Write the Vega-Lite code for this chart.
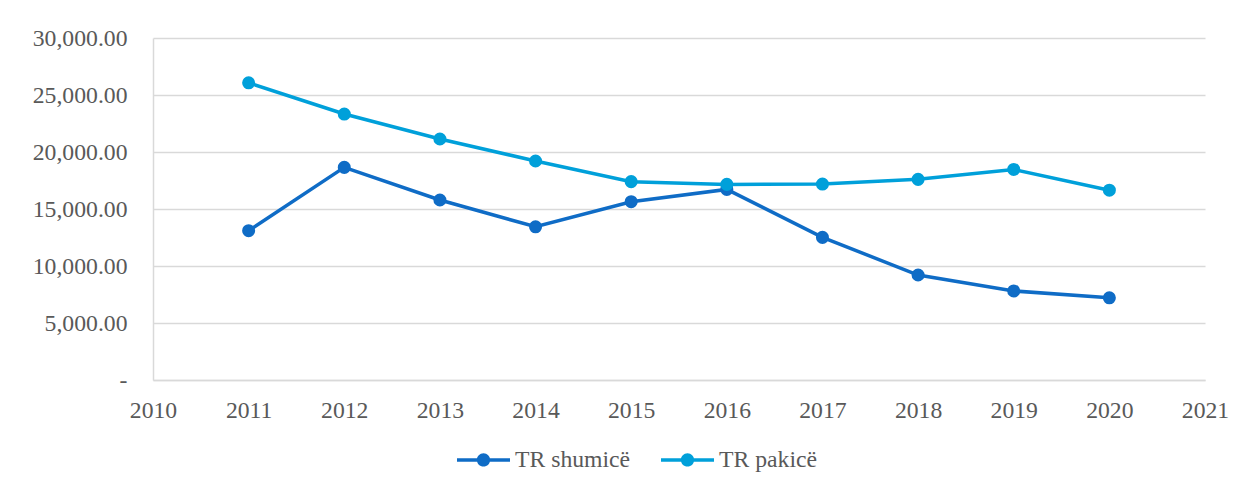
{
  "$schema": "https://vega.github.io/schema/vega-lite/v6.json",
  "width": 1052,
  "height": 342,
  "autosize": "none",
  "padding": {"left": 153, "top": 38, "right": 41, "bottom": 110},
  "background": "white",
  "config": {
    "view": {"stroke": null},
    "font": "Liberation Serif",
    "axis": {"labelFont": "Liberation Serif", "labelFontSize": 23.7, "labelColor": "#595959", "ticks": false, "title": null},
    "legend": {"labelFont": "Liberation Serif", "labelFontSize": 23.7, "labelColor": "#595959"}
  },
  "data": {
    "values": [
      {"year": 2011, "series": "TR shumicë", "value": 13100},
      {"year": 2012, "series": "TR shumicë", "value": 18650},
      {"year": 2013, "series": "TR shumicë", "value": 15790},
      {"year": 2014, "series": "TR shumicë", "value": 13440},
      {"year": 2015, "series": "TR shumicë", "value": 15640},
      {"year": 2016, "series": "TR shumicë", "value": 16720},
      {"year": 2017, "series": "TR shumicë", "value": 12510},
      {"year": 2018, "series": "TR shumicë", "value": 9210},
      {"year": 2019, "series": "TR shumicë", "value": 7810},
      {"year": 2020, "series": "TR shumicë", "value": 7210},
      {"year": 2011, "series": "TR pakicë", "value": 26070},
      {"year": 2012, "series": "TR pakicë", "value": 23330},
      {"year": 2013, "series": "TR pakicë", "value": 21140},
      {"year": 2014, "series": "TR pakicë", "value": 19210},
      {"year": 2015, "series": "TR pakicë", "value": 17400},
      {"year": 2016, "series": "TR pakicë", "value": 17160},
      {"year": 2017, "series": "TR pakicë", "value": 17190},
      {"year": 2018, "series": "TR pakicë", "value": 17600},
      {"year": 2019, "series": "TR pakicë", "value": 18470},
      {"year": 2020, "series": "TR pakicë", "value": 16650}
    ]
  },
  "encoding": {
    "x": {
      "field": "year", "type": "quantitative",
      "scale": {"domain": [2010, 2021], "nice": false, "zero": false},
      "axis": {"values": [2010, 2011, 2012, 2013, 2014, 2015, 2016, 2017, 2018, 2019, 2020, 2021], "format": "d", "grid": false, "domainColor": "#d9d9d9", "domainWidth": 1.5, "labelPadding": 18, "labelFlush": false}
    },
    "y": {
      "field": "value", "type": "quantitative",
      "scale": {"domain": [0, 30000], "nice": false},
      "axis": {"values": [0, 5000, 10000, 15000, 20000, 25000, 30000], "labelExpr": "datum.value === 0 ? '-\u00a0\u00a0' : format(datum.value, ',.2f')", "grid": true, "gridColor": "#d9d9d9", "gridWidth": 1.5, "domainColor": "#d9d9d9", "domainWidth": 1.5, "labelPadding": 26}
    },
    "color": {
      "field": "series", "type": "nominal",
      "scale": {"domain": ["TR shumicë", "TR pakicë"], "range": ["#0f6cc6", "#00a0da"]},
      "legend": {
        "title": null,
        "orient": "none",
        "direction": "horizontal",
        "legendX": 304,
        "legendY": 395,
        "padding": 0,
        "symbolType": "M-1,-0.066H1V0.066H-1Z M-0.25,0A0.25,0.25 0 1,1 0.25,0A0.25,0.25 0 1,1 -0.25,0Z",
        "symbolSize": 2809,
        "symbolStrokeWidth": 0,
        "symbolOpacity": 1,
        "labelOffset": 5,
        "columnPadding": 30
      }
    }
  },
  "layer": [
    {
      "mark": {"type": "line", "strokeWidth": 3.5}
    },
    {
      "mark": {"type": "point", "filled": true, "opacity": 1, "size": 170}
    }
  ]
}
